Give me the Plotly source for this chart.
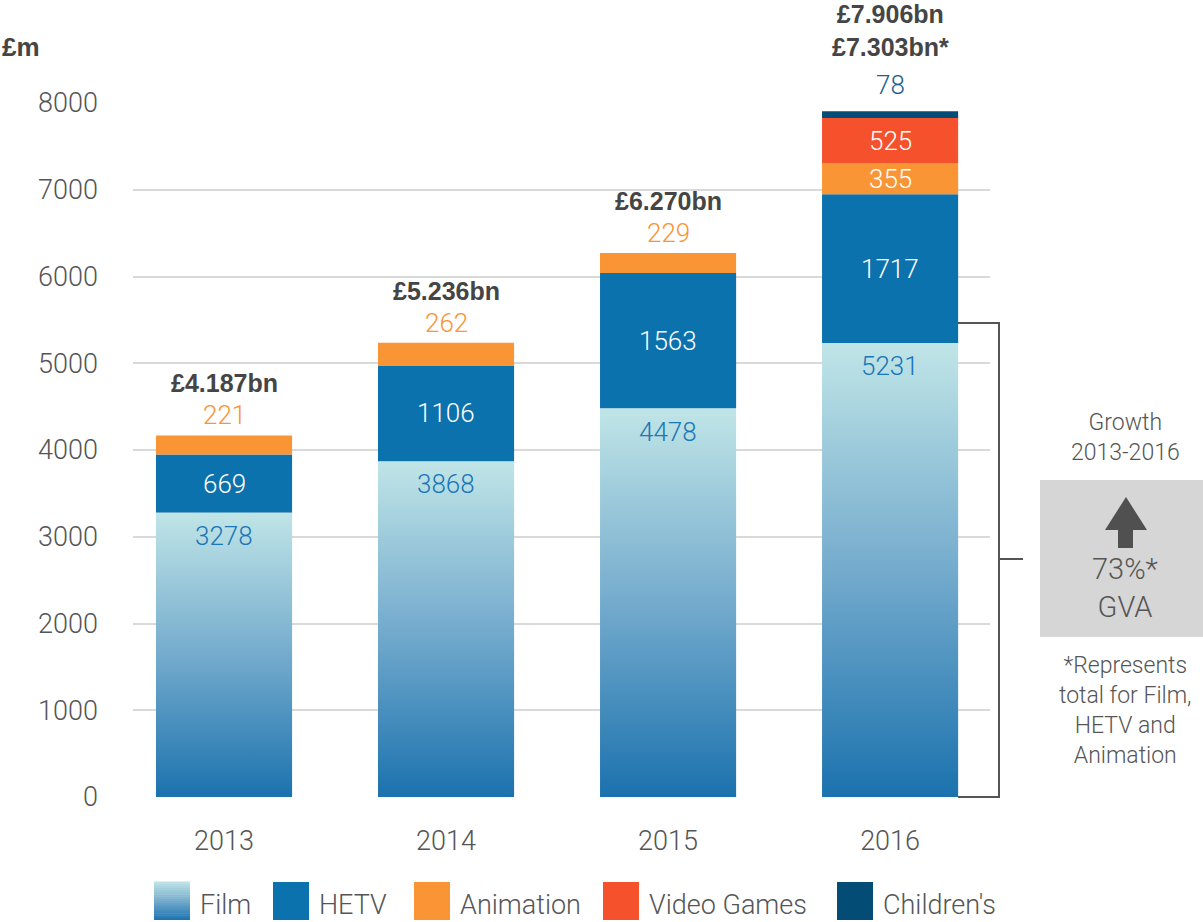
import plotly.graph_objects as go

# --- data ---
years = ["2013", "2014", "2015", "2016"]
film = [3278, 3868, 4478, 5231]
hetv = [669, 1106, 1563, 1717]
animation = [221, 262, 229, 355]
video_games = [525]          # 2016 only
childrens = [78]             # 2016 only
totals = ["£4.187bn", "£5.236bn", "£6.270bn", "£7.906bn<br>£7.303bn*"]
y_ticks = [0, 1000, 2000, 3000, 4000, 5000, 6000, 7000, 8000]

# --- style ---
C_HETV = "#0b72ae"
C_ANIM = "#f99535"
C_VG = "#f4512c"
C_CHILD = "#034c76"
FILM_SCALE = [[0, "#1b72ae"], [0.5, "#74abcd"], [1, "#c0e5e7"]]
GREY = "#555555"
DARK = "#454545"
LIGHT = dict(family="Roboto, Liberation Sans, sans-serif", weight=300)
BOLD = dict(family="Liberation Sans, Arial, sans-serif", weight=700)

W, H = 1203, 922
L, R, T, B = 133, 990, 103, 797
BAR_W = 0.613
xs = list(range(len(years)))


def px(x):
    return (x - L) / (R - L)


def py(y):
    return (B - y) / (B - T)


fig = go.Figure()

# film bars drawn as gradient-filled polygons
for i, v in enumerate(film):
    x0, x1 = xs[i] - BAR_W / 2, xs[i] + BAR_W / 2
    fig.add_trace(go.Scatter(
        x=[x0, x1, x1, x0, x0], y=[0, 0, v, v, 0],
        mode="lines", line=dict(width=0), fill="toself",
        fillgradient=dict(type="vertical", colorscale=FILM_SCALE, start=0, stop=v),
        hoverinfo="skip", showlegend=False,
    ))

base_anim = [f + h for f, h in zip(film, hetv)]
top_anim = [b + a for b, a in zip(base_anim, animation)]
base_vg = [top_anim[3]]
base_child = [base_vg[0] + video_games[0]]

fig.add_trace(go.Bar(x=xs, y=hetv, base=film, width=BAR_W, marker=dict(color=C_HETV, line_width=0), name="HETV"))
fig.add_trace(go.Bar(x=xs, y=animation, base=base_anim, width=BAR_W, marker=dict(color=C_ANIM, line_width=0), name="Animation"))
fig.add_trace(go.Bar(x=[3], y=video_games, base=base_vg, width=BAR_W, marker=dict(color=C_VG, line_width=0), name="Video Games"))
fig.add_trace(go.Bar(x=[3], y=childrens, base=base_child, width=BAR_W, marker=dict(color=C_CHILD, line_width=0), name="Children's"))

ann = []
val_font = dict(size=26, **LIGHT)
for i in xs:
    ann.append(dict(x=i, y=film[i], yshift=-23, text=str(film[i]), showarrow=False,
                    font=dict(color="#1a76b6", **val_font)))
    ann.append(dict(x=i, y=film[i] + hetv[i] / 2, text=str(hetv[i]), showarrow=False,
                    font=dict(color="white", **val_font)))
    if i < 3:
        ann.append(dict(x=i, y=top_anim[i], yshift=20, text=str(animation[i]), showarrow=False,
                        font=dict(color=C_ANIM, **val_font)))
        ann.append(dict(x=i, y=top_anim[i], yshift=52, text=totals[i], showarrow=False,
                        font=dict(color=DARK, size=25, **BOLD)))
    else:
        ann.append(dict(x=i, y=base_anim[i] + animation[i] / 2, text=str(animation[i]), showarrow=False,
                        font=dict(color="white", **val_font)))
        ann.append(dict(x=i, y=base_vg[0] + video_games[0] / 2, text=str(video_games[0]), showarrow=False,
                        font=dict(color="white", **val_font)))
        top = base_child[0] + childrens[0]
        ann.append(dict(x=i, y=top, yshift=26, text=str(childrens[0]), showarrow=False,
                        font=dict(color="#1d5f8c", **val_font)))
        ann.append(dict(x=i, y=top, yshift=81, yanchor="middle", text=totals[i], showarrow=False,
                        font=dict(color=DARK, size=25, **BOLD)))

# axis unit label
ann.append(dict(xref="paper", yref="paper", x=px(0), y=py(47), xanchor="left", yanchor="middle",
                text="£m", showarrow=False, font=dict(color=DARK, size=26, **BOLD)))

# right-hand panel
panel = [("Growth<br>2013-2016", 437, 23), ("73%*<br>GVA", 588, 29),
         ("*Represents<br>total for Film,<br>HETV and<br>Animation", 710, 23)]
for txt, yc, size in panel:
    ann.append(dict(xref="paper", yref="paper", x=px(1125), y=py(yc), xanchor="center", yanchor="middle",
                    text=txt, showarrow=False, font=dict(color=GREY, size=size, **LIGHT)))

shapes = [
    dict(type="path", xref="paper", yref="paper",
         path=f"M {px(958)},{py(323)} L {px(999)},{py(323)} L {px(999)},{py(797)} L {px(958)},{py(797)}",
         line=dict(color=GREY, width=2)),
    dict(type="line", xref="paper", yref="paper", x0=px(999), x1=px(1023), y0=py(559), y1=py(559),
         line=dict(color=GREY, width=2)),
    dict(type="rect", xref="paper", yref="paper", x0=px(1040), x1=px(1203), y0=py(637), y1=py(480),
         fillcolor="#d6d6d6", line_width=0, layer="below"),
    dict(type="path", xref="paper", yref="paper",
         path=(f"M {px(1126)},{py(497)} L {px(1147)},{py(530)} L {px(1133)},{py(530)} "
               f"L {px(1133)},{py(548)} L {px(1118)},{py(548)} L {px(1118)},{py(530)} "
               f"L {px(1105)},{py(530)} Z"),
         fillcolor="#505050", line_width=0),
]


def film_colour(t):
    # interpolate the film colour scale (used for the legend swatch)
    for j in range(len(FILM_SCALE) - 1):
        p0, h0 = FILM_SCALE[j]
        p1, h1 = FILM_SCALE[j + 1]
        if p0 <= t <= p1:
            a = (t - p0) / (p1 - p0)
            c0 = [int(h0[m:m + 2], 16) for m in (1, 3, 5)]
            c1 = [int(h1[m:m + 2], 16) for m in (1, 3, 5)]
            return "rgb(%d,%d,%d)" % tuple(round(c0[q] + (c1[q] - c0[q]) * a) for q in range(3))
    return FILM_SCALE[-1][1]


# legend (drawn manually)
legend_items = [("Film", None, 154, 198), ("HETV", C_HETV, 273, 317), ("Animation", C_ANIM, 414, 458),
                ("Video Games", C_VG, 603, 647), ("Children's", C_CHILD, 837, 881)]
for label, color, sx, tx in legend_items:
    if color is None:
        n = 18
        for k in range(n):
            y_bot = 920 - 38 * k / n
            y_top = 920 - 38 * (k + 1) / n
            shapes.append(dict(type="rect", xref="paper", yref="paper", x0=px(sx), x1=px(sx + 36),
                               y0=py(y_bot), y1=py(y_top - 0.5), fillcolor=film_colour((k + 0.5) / n),
                               line_width=0))
    else:
        shapes.append(dict(type="rect", xref="paper", yref="paper", x0=px(sx), x1=px(sx + 36),
                           y0=py(920), y1=py(882), fillcolor=color, line_width=0))
    ann.append(dict(xref="paper", yref="paper", x=px(tx), y=py(905), xanchor="left", yanchor="middle",
                    text=label, showarrow=False, font=dict(color=GREY, size=27, **LIGHT)))

fig.update_layout(
    width=W, height=H,
    margin=dict(l=L, r=W - R, t=T, b=H - B, pad=0),
    paper_bgcolor="white", plot_bgcolor="white",
    barmode="overlay", showlegend=False,
    xaxis=dict(range=[-0.41, 3.45], tickvals=xs, ticktext=years, showgrid=False, zeroline=False,
               showline=False, ticks="", ticklabelstandoff=25,
               tickfont=dict(color=GREY, size=27, **LIGHT), fixedrange=True),
    yaxis=dict(range=[0, 8000], tickvals=y_ticks, showgrid=True, gridcolor="#d9d9d9", gridwidth=2,
               zeroline=False, showline=False, ticks="", ticklabelstandoff=34,
               tickfont=dict(color=GREY, size=27, **LIGHT), fixedrange=True),
    annotations=ann, shapes=shapes,
)

fig.write_html("out.html", config={"displayModeBar": False},
               post_script="document.body.style.margin='0px';")
